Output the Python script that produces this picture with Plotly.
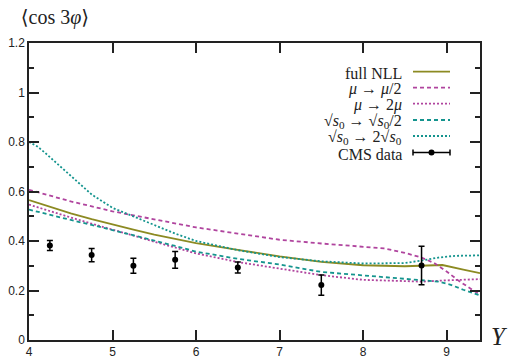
import plotly.graph_objects as go

# ---- data ----
x_nll = [4.0, 4.25, 4.5, 4.75, 5.0, 5.25, 5.5, 5.75, 6.0, 6.5, 7.0, 7.5, 8.0, 8.5, 8.7, 8.95, 9.2, 9.4]
y_nll = [0.565, 0.538, 0.512, 0.488, 0.466, 0.446, 0.426, 0.407, 0.391, 0.364, 0.338, 0.316, 0.302, 0.298, 0.299, 0.303, 0.284, 0.27]

x_mu_half = [4.0, 4.5, 5.0, 5.5, 6.0, 6.5, 7.0, 7.5, 8.0, 8.25, 8.5, 8.7, 8.85, 9.0, 9.15, 9.3, 9.4]
y_mu_half = [0.607, 0.56, 0.52, 0.487, 0.455, 0.43, 0.405, 0.39, 0.378, 0.37, 0.352, 0.333, 0.311, 0.277, 0.238, 0.203, 0.183]

x_mu_2 = [4.0, 4.25, 4.5, 4.75, 5.0, 5.25, 5.5, 5.75, 6.0, 6.5, 7.0, 7.5, 8.0, 8.5, 8.7, 9.0, 9.4]
y_mu_2 = [0.547, 0.52, 0.495, 0.47, 0.447, 0.422, 0.397, 0.373, 0.35, 0.315, 0.288, 0.262, 0.243, 0.237, 0.236, 0.241, 0.246]

x_s0_half = [4.0, 4.25, 4.5, 4.75, 5.0, 5.25, 5.5, 5.75, 6.0, 6.5, 7.0, 7.5, 8.0, 8.5, 8.7, 8.9, 9.05, 9.2, 9.4]
y_s0_half = [0.527, 0.505, 0.485, 0.465, 0.445, 0.425, 0.402, 0.38, 0.357, 0.328, 0.305, 0.275, 0.26, 0.246, 0.24, 0.236, 0.223, 0.203, 0.18]

x_s0_2 = [4.0, 4.1, 4.19, 4.35, 4.5, 4.75, 5.0, 5.25, 5.5, 5.75, 6.0, 6.5, 7.0, 7.5, 8.0, 8.5, 8.7, 8.9, 9.1, 9.4]
y_s0_2 = [0.80, 0.782, 0.757, 0.708, 0.662, 0.588, 0.534, 0.50, 0.465, 0.43, 0.40, 0.363, 0.335, 0.318, 0.309, 0.311, 0.321, 0.333, 0.34, 0.342]

x_cms = [4.25, 4.75, 5.25, 5.75, 6.5, 7.5, 8.7]
y_cms = [0.382, 0.343, 0.30, 0.324, 0.293, 0.222, 0.301]
e_cms = [0.02, 0.027, 0.03, 0.034, 0.022, 0.041, 0.078]

x_ticks = [4, 5, 6, 7, 8, 9]
y_ticks = [0, 0.2, 0.4, 0.6, 0.8, 1, 1.2]

legend_labels = ["full NLL", "<i>μ</i> → <i>μ</i>/2", "<i>μ</i> → 2<i>μ</i>",
                 "√<i>s</i><sub>0</sub> → √<i>s</i><sub>0</sub>/2",
                 "√<i>s</i><sub>0</sub> → 2√<i>s</i><sub>0</sub>", "CMS data"]

OLIVE = "#8c8a22"
MAG = "#b0449e"
TEAL = "#14948e"

series = [
    (x_nll, y_nll, OLIVE, "solid"),
    (x_mu_half, y_mu_half, MAG, "dash"),
    (x_mu_2, y_mu_2, MAG, "dot"),
    (x_s0_half, y_s0_half, TEAL, "dash"),
    (x_s0_2, y_s0_2, TEAL, "dot"),
]

fig = go.Figure()
for xs, ys, col, dash in series:
    dd = {"dash": "4px,3px", "dot": "2px,2px"}.get(dash, dash)
    fig.add_trace(go.Scatter(x=xs, y=ys, mode="lines",
                             line=dict(color=col, width=1.8, dash=dd), showlegend=False))

fig.add_trace(go.Scatter(x=x_cms, y=y_cms, mode="markers",
                         marker=dict(color="black", size=6),
                         error_y=dict(type="data", array=e_cms, color="black", thickness=1.5, width=3),
                         showlegend=False))

# ---- layout geometry ----
L, R, T, B = 29, 32, 43, 23
W, H = 512, 363
pw, ph = W - L - R, H - T - B

def px2x(px):
    return (px - L) / pw

def py2y(py):
    return (H - B - py) / ph

SERIF = "Liberation Serif, DejaVu Serif, serif"
shapes = []
annotations = []
rows_py = [71.7, 87.7, 103.7, 120, 136, 152.5]
styles = [(OLIVE, "solid"), (MAG, "4px,3px"), (MAG, "2px,2px"), (TEAL, "4px,3px"), (TEAL, "2px,2px"), ("black", "solid")]
for lab, py, (col, dash) in zip(legend_labels, rows_py, styles):
    annotations.append(dict(x=px2x(404), y=py2y(py + 1.5), xref="paper", yref="paper",
                            text=lab, showarrow=False, xanchor="right", yanchor="middle",
                            font=dict(family=SERIF, size=16, color="#222")))
    shapes.append(dict(type="line", xref="paper", yref="paper",
                       x0=px2x(413), x1=px2x(450), y0=py2y(py), y1=py2y(py),
                       line=dict(color=col, width=1.8 if col != "black" else 1.5, dash=dash)))
# CMS legend caps and dot
cy = rows_py[-1]
for cx in (413, 450):
    shapes.append(dict(type="line", xref="paper", yref="paper", x0=px2x(cx), x1=px2x(cx),
                       y0=py2y(cy - 3), y1=py2y(cy + 3), line=dict(color="black", width=1.5)))
shapes.append(dict(type="circle", xref="paper", yref="paper", x0=px2x(428.5), x1=px2x(434.5),
                   y0=py2y(cy + 3), y1=py2y(cy - 3), fillcolor="black", line=dict(color="black", width=0)))

annotations.append(dict(x=px2x(499), y=py2y(336), xref="paper", yref="paper", text="<i>Y</i>",
                        showarrow=False, xanchor="center", yanchor="middle",
                        font=dict(family=SERIF, size=25, color="#222")))

axis_common = dict(showline=True, linecolor="#222", linewidth=1.5, mirror="ticks",
                   ticks="inside", ticklen=10, tickwidth=1.5, tickcolor="#222",
                   showgrid=False, zeroline=False, automargin=False,
                   tickfont=dict(family="Liberation Sans, Arial, sans-serif", size=12, color="#222"))

fig.update_layout(
    width=W, height=H,
    margin=dict(l=L, r=R, t=T, b=B),
    paper_bgcolor="white", plot_bgcolor="white",
    title=dict(text="⟨cos 3<i>φ</i>⟩", x=55 / W, xanchor="center", xref="container",
               y=1 - 17 / H, yanchor="middle", yref="container",
               font=dict(family=SERIF, size=20, color="#222")),
    xaxis=dict(range=[4, 9.4], tickvals=x_ticks, ticktext=[str(v) for v in x_ticks], **axis_common),
    yaxis=dict(range=[0, 1.2], tickvals=y_ticks, ticktext=[f"{v:g}" for v in y_ticks],
               minor=dict(ticks="inside", ticklen=5, tickwidth=1.5, tickcolor="#222", dtick=0.1, tick0=0),
               **axis_common),
    shapes=shapes, annotations=annotations,
)

fig.write_html("out.html", config={"displayModeBar": False},
               post_script="document.body.style.margin='0';document.body.style.overflow='hidden';")
